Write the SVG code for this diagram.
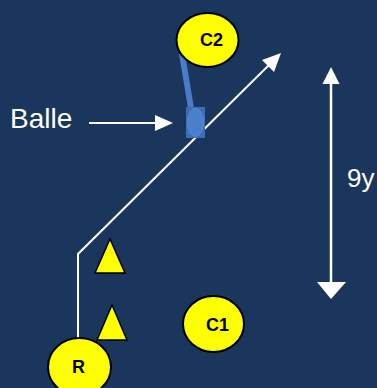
<svg xmlns="http://www.w3.org/2000/svg" width="377" height="388" viewBox="0 0 377 388">
<style>
.node ellipse{fill:#ffff00;stroke:#000;stroke-width:2}
.lbl{font-family:"Liberation Sans",Arial,sans-serif;font-weight:bold;font-size:18px;fill:#000;text-anchor:middle;dominant-baseline:central}
.cone{fill:#ffff00;stroke:#000;stroke-width:1.5;stroke-linejoin:miter}
.txt{font-family:"Liberation Sans",Arial,sans-serif;fill:#fff}
.wl{stroke:#fff;fill:none}
</style>
<rect width="377" height="388" fill="#1b365d"/>
<g id="connectors">
<polyline class="wl" stroke-width="2" points="78,340 78,254 270,64"/>
<path d="M281,53 L262,60 L274,72 Z" fill="#fff"/>
<line class="wl" x1="89" y1="123" x2="157" y2="123" stroke-width="2"/>
<path d="M173,123 L155,115 L155,131 Z" fill="#fff"/>
<line class="wl" x1="331" y1="82" x2="331" y2="284" stroke-width="2.5"/>
<path d="M331,67 L322.5,84 L339.5,84 Z" fill="#fff"/>
<path d="M331,299 L317,282 L346,282 Z" fill="#fff"/>
</g>
<g id="ball">
<path d="M179,54 L185,54 L194,108 L188,108 Z" fill="#4a7cc9"/>
<rect x="186" y="107" width="19" height="31" fill="#3d6cb8"/>
<ellipse cx="195.5" cy="122.5" rx="8" ry="14" fill="#4a7fcc" stroke="#5a8ad0" stroke-width="1"/>
</g>
<g id="C2" class="node"><ellipse cx="207.5" cy="40" rx="31" ry="27"/><text class="lbl" x="211.5" y="40">C2</text></g>
<g id="C1" class="node"><ellipse cx="213.5" cy="324" rx="30.5" ry="28"/><text class="lbl" x="217.5" y="325">C1</text></g>
<g id="R" class="node"><ellipse cx="79.5" cy="367" rx="31.5" ry="29"/><text class="lbl" x="78.5" y="366.5">R</text></g>
<g id="cone1"><path class="cone" d="M110,239 L125,273 L95,273 Z"/></g>
<g id="cone2"><path class="cone" d="M112,305 L127,340 L97,340 Z"/></g>
<g id="labels">
<text class="txt" x="10" y="128" font-size="28">Balle</text>
<text class="txt" x="347" y="187" font-size="26">9y</text>
</g>
</svg>
